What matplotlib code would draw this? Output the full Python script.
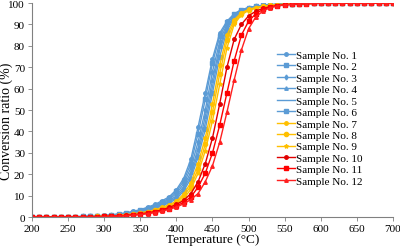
import matplotlib
matplotlib.use("Agg")
import matplotlib.pyplot as plt

temps = list(range(200, 701, 10))
tail = [99.9, 99.9, 100, 100, 100, 100, 100, 100, 100, 100, 100]

s1 = [0, 0, 0, 0.1, 0.1, 0.2, 0.2, 0.3, 0.4, 0.6,
      0.8, 1.1, 1.5, 2.0, 2.7, 3.5, 4.6, 5.9, 7.6, 9.5,
      12.8, 18, 27, 42, 58, 74, 86, 91.5, 95, 96.9,
      97.9, 98.5, 98.9, 99.2, 99.4, 99.6, 99.7, 99.8, 99.8, 99.9] + tail
s2 = [0, 0, 0, 0.1, 0.1, 0.2, 0.2, 0.3, 0.4, 0.5,
      0.7, 1.0, 1.3, 1.8, 2.4, 3.2, 4.2, 5.4, 7.0, 8.9,
      12, 16.8, 25, 39, 55, 72, 84.5, 91, 94.7, 96.7,
      97.8, 98.4, 98.9, 99.2, 99.4, 99.6, 99.7, 99.8, 99.8, 99.9] + tail
s3 = [0, 0, 0, 0.1, 0.1, 0.1, 0.2, 0.3, 0.3, 0.4,
      0.6, 0.9, 1.2, 1.6, 2.2, 2.9, 3.8, 5.0, 6.5, 8.3,
      11.0, 15.5, 23, 35, 50, 68, 82, 90.3, 94.4, 96.5,
      97.7, 98.4, 98.8, 99.1, 99.4, 99.6, 99.7, 99.8, 99.8, 99.9] + tail
s4 = [0, 0, 0, 0.1, 0.1, 0.1, 0.2, 0.2, 0.3, 0.4,
      0.6, 0.8, 1.1, 1.5, 2.0, 2.7, 3.5, 4.6, 6.0, 7.7,
      9.9, 14.3, 21, 32, 47, 64, 80, 89, 93.8, 96.2,
      97.5, 98.3, 98.8, 99.1, 99.4, 99.6, 99.7, 99.8, 99.8, 99.9] + tail
s5 = [0, 0, 0, 0.1, 0.1, 0.1, 0.2, 0.2, 0.3, 0.4,
      0.5, 0.7, 1.0, 1.4, 1.8, 2.5, 3.3, 4.3, 5.6, 7.2,
      9.1, 13.2, 19.5, 30, 44, 61, 78, 88.5, 93.5, 96.0,
      97.4, 98.2, 98.7, 99.0, 99.3, 99.5, 99.7, 99.8, 99.8, 99.9] + tail
s6 = [0, 0, 0, 0.1, 0.1, 0.1, 0.2, 0.2, 0.3, 0.4,
      0.5, 0.7, 0.9, 1.3, 1.7, 2.3, 3.0, 4.0, 5.2, 6.7,
      8.4, 12.2, 18, 28, 41, 58, 75, 87, 93, 95.7,
      97.2, 98.1, 98.6, 99.0, 99.3, 99.5, 99.6, 99.7, 99.8, 99.9] + tail
s7 = [0, 0, 0, 0, 0.1, 0.1, 0.1, 0.2, 0.2, 0.3,
      0.4, 0.6, 0.8, 1.1, 1.5, 2.0, 2.6, 3.4, 4.5, 5.8,
      7.4, 10.8, 16, 25, 37, 53, 71, 85, 92.2, 95.4,
      97.0, 97.9, 98.5, 98.9, 99.2, 99.4, 99.6, 99.7, 99.8, 99.8] + tail
s8 = [0, 0, 0, 0, 0.1, 0.1, 0.1, 0.2, 0.2, 0.3,
      0.4, 0.5, 0.7, 1.0, 1.4, 1.8, 2.4, 3.2, 4.1, 5.3,
      6.8, 9.8, 14.5, 22.5, 34, 49, 67, 82.5, 91.2, 95.0,
      96.8, 97.8, 98.4, 98.9, 99.2, 99.4, 99.6, 99.7, 99.8, 99.8] + tail
s9 = [0, 0, 0, 0, 0.1, 0.1, 0.1, 0.1, 0.2, 0.2,
      0.3, 0.5, 0.7, 0.9, 1.2, 1.7, 2.2, 2.9, 3.8, 4.9,
      6.3, 8.6, 13, 20.5, 31, 45, 62, 79, 90, 94.5,
      96.5, 97.6, 98.3, 98.8, 99.1, 99.4, 99.6, 99.7, 99.8, 99.8] + tail
s10 = [0, 0, 0, 0, 0, 0.1, 0.1, 0.1, 0.2, 0.2,
       0.3, 0.4, 0.6, 0.8, 1.1, 1.5, 2.0, 2.6, 3.4, 4.5,
       5.9, 7.8, 11, 16.5, 25, 37, 53, 70, 83, 90,
       94, 96.2, 97.5, 98.3, 98.8, 99.2, 99.4, 99.6, 99.7, 99.8] + tail
s11 = [0, 0, 0, 0, 0, 0.1, 0.1, 0.1, 0.1, 0.2,
       0.3, 0.4, 0.5, 0.7, 1.0, 1.3, 1.8, 2.3, 3.1, 4.0,
       5.2, 6.9, 9.4, 14, 20.5, 30, 43, 58, 73, 85,
       91.5, 95, 97, 98.1, 98.7, 99.1, 99.4, 99.6, 99.7, 99.8] + tail
s12 = [0, 0, 0, 0, 0, 0, 0.1, 0.1, 0.1, 0.2,
       0.2, 0.3, 0.5, 0.6, 0.9, 1.2, 1.6, 2.1, 2.8, 3.6,
       4.7, 6.2, 8.2, 11, 16.5, 24, 35, 49, 64, 78,
       88, 93.5, 96.3, 97.8, 98.6, 99.1, 99.4, 99.6, 99.7, 99.8] + tail

series = [s1, s2, s3, s4, s5, s6, s7, s8, s9, s10, s11, s12]
labels = [f"Sample No. {i}" for i in range(1, 13)]
colors = ["#5B9BD5"] * 6 + ["#FFC000"] * 3 + ["#E00000", "#FF0000", "#FF2020"]
markers = ["o", "s", "d", "^", "", "s", "o", "o", "*", "o", "s", "^"]
msizes = [2.5, 2.5, 2.5, 2.5, 0, 3.5, 2.5, 3, 3, 2.5, 2.5, 2.5]

plt.rcParams["font.family"] = ["Liberation Serif"]

fig = plt.figure(figsize=(4.0, 2.51), dpi=100)
ax = fig.add_axes([0.08, 0.131, 0.9025, 0.853])

for y, lab, c, m, ms in zip(series, labels, colors, markers, msizes):
    ax.plot(temps, y, color=c, marker=m, markersize=ms, linewidth=1.0, label=lab)

ax.set_xlim(200, 700)
ax.set_ylim(0, 100)
ax.set_xticks(range(200, 701, 50))
ax.set_yticks(range(0, 101, 10))
ax.tick_params(labelsize=8, length=3, width=0.6, color="#808080", pad=2)
for s in ["top", "right"]:
    ax.spines[s].set_visible(False)
for s in ["left", "bottom"]:
    ax.spines[s].set_color("#808080")
    ax.spines[s].set_linewidth(0.8)
ax.set_xlabel("Temperature (°C)", fontsize=9.5, labelpad=0)
ax.set_ylabel("Conversion ratio (%)", fontsize=10)
ax.yaxis.set_label_coords(-0.052, 0.45)

leg = ax.legend(loc="upper left", bbox_to_anchor=(0.68, 0.78), frameon=False,
                fontsize=8, handlelength=1.6, handletextpad=0.1,
                labelspacing=0.15, borderpad=0, borderaxespad=0)

fig.savefig("out.png", dpi=100)
